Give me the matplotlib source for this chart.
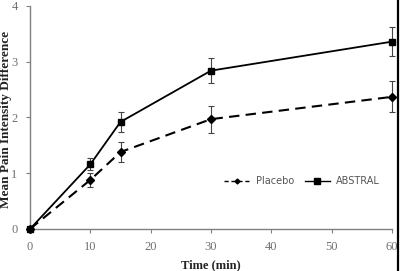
import matplotlib
matplotlib.use("Agg")
import matplotlib.pyplot as plt
from matplotlib.lines import Line2D

time = [0, 10, 15, 30, 60]
placebo = [0, 0.88, 1.38, 1.97, 2.37]
placebo_err = [0, 0.12, 0.18, 0.24, 0.28]
abstral = [0, 1.16, 1.92, 2.84, 3.36]
abstral_err = [0, 0.11, 0.18, 0.23, 0.26]
xticks = [0, 10, 20, 30, 40, 50, 60]
yticks = [0, 1, 2, 3, 4]

fig = plt.figure(figsize=(4.0, 2.71), dpi=100)
ax = fig.add_axes([0.075, 0.155, 0.905, 0.823])

ax.errorbar(time, placebo, yerr=placebo_err, color='black', lw=1.5,
            dashes=(5, 3), marker='D', ms=4.5, capsize=2, elinewidth=0.8,
            ecolor='#444444', capthick=0.8, label='Placebo', zorder=3,
            clip_on=False)
ax.errorbar(time, abstral, yerr=abstral_err, color='black', lw=1.3,
            marker='s', ms=5, capsize=2, elinewidth=0.8,
            ecolor='#444444', capthick=0.8, label='ABSTRAL', zorder=3,
            clip_on=False)

ax.set_xlim(0, 60)
ax.set_ylim(0, 4)
ax.set_xticks(xticks)
ax.set_yticks(yticks)
for s in ['top', 'right']:
    ax.spines[s].set_visible(False)
for s in ['left', 'bottom']:
    ax.spines[s].set_color('#808080')
    ax.spines[s].set_linewidth(1.0)
ax.tick_params(colors='#808080', labelcolor='#707070', length=3, width=0.8,
               labelsize=9)
for lab in ax.get_xticklabels() + ax.get_yticklabels():
    lab.set_fontfamily('Liberation Serif')
ax.tick_params(axis='x', pad=6)
ax.tick_params(axis='y', pad=6)

ax.set_xlabel('Time (min)', fontfamily='Liberation Serif', fontweight='bold',
              fontsize=9, color='#222222', labelpad=4)
fig.text(0.016, 0.56, 'Mean Pain Intensity Difference', rotation=90,
         ha='center', va='center', fontfamily='Liberation Serif',
         fontweight='bold', fontsize=9.5, color='#222222')

handles = [Line2D([], [], color='black', lw=1.0, dashes=(3, 2), marker='D', ms=2.5),
           Line2D([], [], color='black', lw=1.0, marker='s', ms=4)]
leg = fig.legend(handles, ['Placebo', 'ABSTRAL'], ncol=2, frameon=False,
                 loc='center', bbox_to_anchor=(0.755, 0.332), fontsize=7,
                 handlelength=2.6, columnspacing=1.1, handletextpad=0.6)
for t in leg.get_texts():
    t.set_color('#555555')

fig.add_artist(Line2D([0.995, 0.995], [0, 1], color='black', lw=1.6,
                      transform=fig.transFigure))

fig.savefig('out.png', dpi=100)
